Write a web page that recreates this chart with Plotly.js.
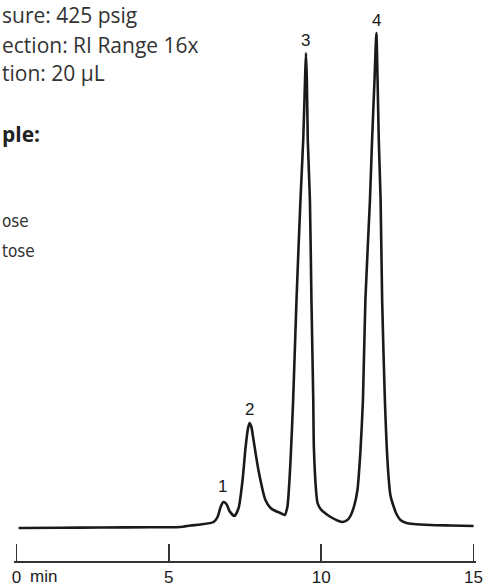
<!DOCTYPE html>
<html>
<head>
<meta charset="utf-8">
<script src="https://cdn.plot.ly/plotly-3.0.1.min.js"></script>
<style>
  html, body { margin: 0; padding: 0; background: #ffffff; }
  #chart { width: 484px; height: 586px; }
</style>
</head>
<body>
<div id="chart"></div>
<script>
// Retention time (min)
const timeMin = [
  0.07, 1.44, 2.76, 4.40, 5.38, 5.71, 6.04, 6.47, 6.60, 6.70, 6.79, 6.89, 6.99, 7.15,
  7.29, 7.42, 7.52, 7.60, 7.65, 7.71, 7.78, 7.94, 8.17, 8.34, 8.50, 8.66, 8.80,
  8.89, 8.99, 9.08, 9.19, 9.32, 9.41, 9.47, 9.50, 9.53, 9.56, 9.63, 9.68, 9.74,
  9.76, 9.83, 9.88, 9.98, 10.08, 10.31, 10.57, 10.70, 10.86, 10.96, 11.09, 11.19,
  11.29, 11.37, 11.45, 11.60, 11.67, 11.75, 11.81, 11.85, 11.89, 11.95, 12.00,
  12.09, 12.18, 12.27, 12.34, 12.47, 12.60, 12.80, 13.03, 13.59, 14.24, 15.00
];
// Detector response (RI, arbitrary units)
const response = [
  0, 0.04, 0.1, 0.14, 0.2, 0.5, 0.7, 1.2, 2.2, 4.2, 5.2, 4.8, 3.4, 2.4,
  4.0, 9.6, 16.2, 20.0, 21.0, 20.2, 17.6, 11.6, 5.6, 4.0, 3.4, 3.0, 2.6,
  4.2, 13.0, 25.6, 45.6, 65.6, 77.6, 89.6, 95.0, 89.6, 77.6, 65.6, 45.6, 25.6,
  16.2, 7.6, 5.0, 3.8, 3.2, 2.2, 1.4, 1.2, 1.6, 2.4, 4.6, 7.6,
  15.6, 25.6, 45.6, 65.6, 77.6, 89.6, 99.0, 89.6, 77.6, 65.6, 45.6,
  25.6, 13.0, 6.6, 5.0, 2.8, 1.6, 1.0, 0.8, 0.6, 0.5, 0.4
];
// Peak numbers and their apex positions
const peakLabels = ['1', '2', '3', '4'];
const peakTimes = [6.75, 7.65, 9.49, 11.80];
const peakLabelY = [8.4, 23.8, 97.6, 101.6];
// Axis ticks
const tickValues = [0, 5, 10, 15];
const tickLabels = ['0', '5', '10', '15'];
// Conditions text (cropped at left edge in the original figure)
const conditionLines = ['sure: 425 psig', 'ection: RI Range 16x', 'tion: 20 µL'];
const conditionY = [0.974, 0.920, 0.869];
const sampleHeading = 'ple:';
const sampleItems = ['ose', 'tose'];
const sampleY = [0.606, 0.553];

const textColor = '#333333';
const plotW = 462;
const leftX = -14 / plotW;
const annotations = [];
conditionLines.forEach((t, i) => annotations.push({
  xref: 'paper', yref: 'paper', x: leftX, y: conditionY[i],
  xanchor: 'left', yanchor: 'middle', showarrow: false, text: t,
  font: { family: 'Open Sans, Noto Sans, sans-serif', size: 21, color: textColor }
}));
annotations.push({
  xref: 'paper', yref: 'paper', x: leftX, y: 0.762,
  xanchor: 'left', yanchor: 'middle', showarrow: false, text: '<b>' + sampleHeading + '</b>',
  font: { family: 'Open Sans, Noto Sans, sans-serif', size: 21, color: '#222' }
});
sampleItems.forEach((t, i) => annotations.push({
  xref: 'paper', yref: 'paper', x: leftX, y: sampleY[i],
  xanchor: 'left', yanchor: 'middle', showarrow: false, text: t,
  font: { family: 'Liberation Sans Narrow, DejaVu Sans Condensed, sans-serif', size: 17, color: textColor }
}));
peakLabels.forEach((t, i) => annotations.push({
  xref: 'x', yref: 'y', x: peakTimes[i], y: peakLabelY[i],
  xanchor: 'center', yanchor: 'middle', showarrow: false, text: t,
  font: { family: 'Liberation Sans, Arial, sans-serif', size: 17, color: '#1a1a1a' }
}));
annotations.push({
  xref: 'x', yref: 'paper', x: 0.39, y: -0.0285,
  xanchor: 'left', yanchor: 'middle', showarrow: false, text: 'min',
  font: { family: 'Liberation Sans, Arial, sans-serif', size: 17, color: '#1a1a1a' }
});

const trace = {
  x: timeMin, y: response, type: 'scatter', mode: 'lines',
  line: { color: '#1a1a1a', width: 2.6, shape: 'spline', smoothing: 0.6 },
  hoverinfo: 'skip'
};

const layout = {
  width: 484, height: 586,
  margin: { l: 14, r: 8, t: 0, b: 25, pad: 0 },
  paper_bgcolor: '#ffffff', plot_bgcolor: '#ffffff',
  showlegend: false,
  xaxis: {
    range: [-0.08, 15.08], tickmode: 'array', tickvals: tickValues, ticktext: tickLabels,
    showline: true, linecolor: '#333', linewidth: 1.5,
    ticks: 'inside', ticklen: 17, tickwidth: 1.5, tickcolor: '#333',
    showgrid: false, zeroline: false, fixedrange: true,
    tickfont: { family: 'Liberation Sans, Arial, sans-serif', size: 17, color: '#1a1a1a' }
  },
  yaxis: {
    range: [-6.6, 105.6], visible: false, showgrid: false, zeroline: false, fixedrange: true
  },
  annotations: annotations
};

Plotly.newPlot('chart', [trace], layout, { displayModeBar: false, staticPlot: true });
</script>
</body>
</html>
